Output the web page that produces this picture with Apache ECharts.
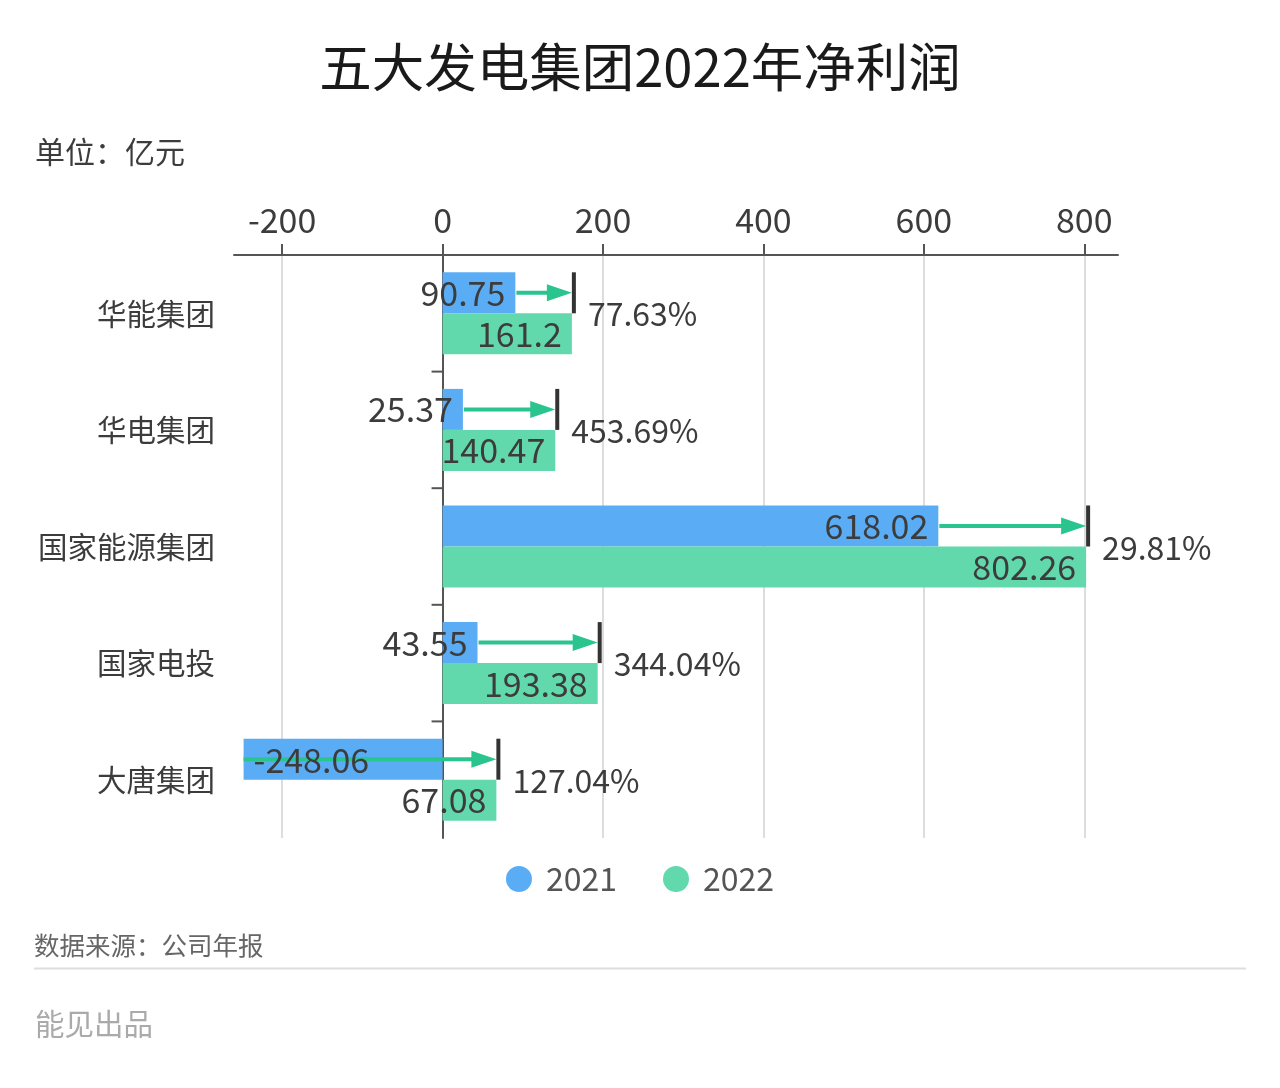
<!DOCTYPE html>
<html>
<head>
<meta charset="utf-8">
<style>html,body{margin:0;padding:0;background:#fff}#chart{width:1280px;height:1088px}</style>
<script src="https://cdn.jsdelivr.net/npm/echarts@6/dist/echarts.min.js"></script>
</head>
<body>
<div id="chart"></div>
<script>
var categories = ['华能集团', '华电集团', '国家能源集团', '国家电投', '大唐集团'];
var values2021 = [90.75, 25.37, 618.02, 43.55, -248.06];
var values2022 = [161.2, 140.47, 802.26, 193.38, 67.08];
var changeLabels = ['77.63%', '453.69%', '29.81%', '344.04%', '127.04%'];
var xTicks = [-200, 0, 200, 400, 600, 800];

var FONT = '"Noto Sans CJK SC", "Noto Sans", sans-serif';
var BLUE = '#5AADF5';
var GREEN = '#62D9AD';
var ARROW = '#2AC48F';
var TEXT = '#3c3c3c';
var AXIS = '#555';
var BAR_H = 41;

var chart = echarts.init(document.getElementById('chart'));

// 箭头 + 竖线 + 增幅文字，类目分隔刻度也在这里画（最下面不要刻度）
function renderArrow(params, api) {
    var start = api.coord([api.value(0), api.value(1)]);
    var end = api.coord([api.value(2), api.value(1)]);
    var zero = api.coord([0, api.value(1)]);
    var band = api.size([0, 1])[1];
    var y = start[1] - BAR_H / 2;
    var negative = api.value(0) < 0;
    var x0 = negative ? start[0] : start[0] + 1;
    var tickY = zero[1] - band / 2;
    var children = [
        { type: 'line', shape: { x1: zero[0] - 11, y1: tickY, x2: zero[0], y2: tickY }, style: { stroke: AXIS, lineWidth: 2 } },
        { type: 'line', shape: { x1: x0, y1: y, x2: end[0] - 20, y2: y }, style: { stroke: ARROW, lineWidth: 4 } },
        { type: 'polygon', shape: { points: [[end[0] - 25, y - 8.5], [end[0], y], [end[0] - 25, y + 8.5]] }, style: { fill: ARROW } },
        { type: 'rect', shape: { x: end[0], y: y - BAR_H / 2, width: 4, height: BAR_H }, style: { fill: '#333' } },
        { type: 'text', style: { x: end[0] + 16, y: start[1] + 1, text: changeLabels[params.dataIndex], fill: TEXT, font: '32px ' + FONT, verticalAlign: 'middle', align: 'left' } }
    ];
    // 负值标签压在箭头线上面
    if (negative) {
        children.push({ type: 'text', style: { x: start[0] + 10, y: y + 1, text: String(api.value(0)), fill: TEXT, font: '34px ' + FONT, verticalAlign: 'middle', align: 'left' } });
    }
    return { type: 'group', children: children };
}

var option = {
    backgroundColor: '#fff',
    animation: false,
    textStyle: { fontFamily: FONT },
    title: [
        { text: '五大发电集团2022年净利润', left: 'center', top: 36, textStyle: { fontSize: 52.5, fontWeight: 400, color: '#1a1a1a', fontFamily: FONT } },
        { text: '单位：亿元', left: 30, top: 132, textStyle: { fontSize: 30, fontWeight: 400, color: TEXT, fontFamily: FONT } },
        { text: '数据来源：公司年报', left: 29, top: 928, textStyle: { fontSize: 25.5, fontWeight: 400, color: '#666', fontFamily: FONT } },
        { text: '能见出品', left: 30, top: 1004, textStyle: { fontSize: 29.5, fontWeight: 400, color: '#aaa', fontFamily: FONT } }
    ],
    graphic: [
        { type: 'line', shape: { x1: 34, y1: 968.5, x2: 1246, y2: 968.5 }, style: { stroke: '#ddd', lineWidth: 2 } }
    ],
    legend: {
        data: ['2021', '2022'],
        top: 858,
        left: 'center',
        icon: 'circle',
        itemWidth: 26,
        itemHeight: 26,
        itemGap: 46,
        textStyle: { fontSize: 32, color: '#555', fontFamily: FONT, padding: [0, 0, 0, 9] }
    },
    grid: { left: 234, right: 162, top: 255, bottom: 250 },
    xAxis: {
        type: 'value',
        position: 'top',
        min: -260,
        max: 842,
        axisLine: { show: true, onZero: false, lineStyle: { color: AXIS, width: 2 } },
        axisTick: { show: true, length: 11, customValues: xTicks, lineStyle: { color: AXIS, width: 2 } },
        axisLabel: { customValues: xTicks, fontSize: 34, color: TEXT, margin: 18, fontFamily: FONT },
        splitLine: { show: true, lineStyle: { color: '#ddd', width: 2 } }
    },
    yAxis: [
        {
            type: 'category',
            data: categories,
            inverse: true,
            axisLine: { show: true, onZero: true, lineStyle: { color: AXIS, width: 2 } },
            axisTick: { show: false },
            axisLabel: { show: false }
        },
        {
            type: 'category',
            data: categories,
            inverse: true,
            position: 'left',
            axisLine: { show: false, onZero: false },
            axisTick: { show: false },
            axisLabel: { fontSize: 29.5, color: TEXT, margin: 19, padding: [3, 0, 0, 0], fontFamily: FONT }
        }
    ],
    series: [
        {
            name: '2021',
            type: 'bar',
            barWidth: BAR_H,
            barGap: 0,
            itemStyle: { color: BLUE },
            label: { show: true, position: 'insideRight', distance: 10, fontSize: 34, color: TEXT, fontFamily: FONT },
            data: values2021.map(function (v) {
                return v < 0 ? { value: v, label: { show: false } } : v;
            })
        },
        {
            name: '2022',
            type: 'bar',
            barWidth: BAR_H,
            barGap: 0,
            itemStyle: { color: GREEN },
            label: { show: true, position: 'insideRight', distance: 10, fontSize: 34, color: TEXT, fontFamily: FONT },
            data: values2022
        },
        {
            type: 'custom',
            renderItem: renderArrow,
            encode: { x: [0, 2], y: 1 },
            z: 5,
            clip: false,
            data: categories.map(function (c, i) {
                return [values2021[i], i, values2022[i]];
            })
        }
    ]
};

if (option && typeof option === 'object') {
    chart.setOption(option, true);
}
</script>
</body>
</html>
